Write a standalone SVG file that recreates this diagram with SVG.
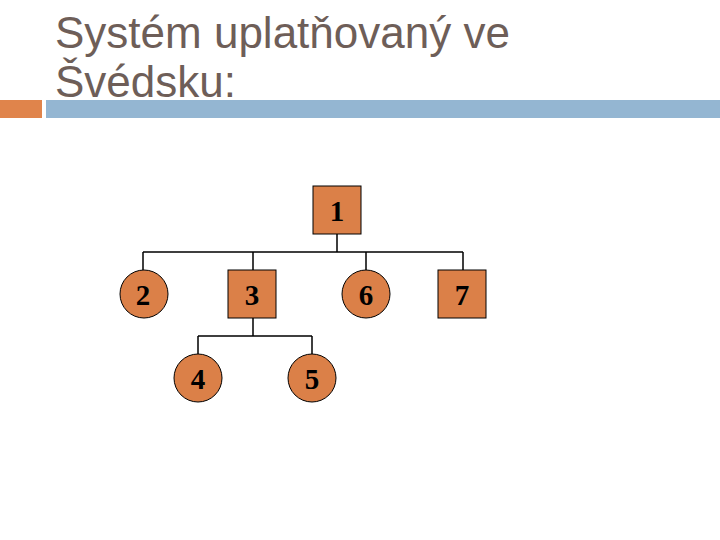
<svg xmlns="http://www.w3.org/2000/svg" width="720" height="540" viewBox="0 0 720 540">
<style>
.title{font-family:"Liberation Sans",Arial,sans-serif;font-size:44px;fill:#6E5E58}
.node{fill:#DB8048;stroke:#000;stroke-width:1}
.lbl{font-family:"Liberation Serif","Times New Roman",serif;font-size:29px;font-weight:bold;fill:#000;text-anchor:middle}
.conn{stroke:#000;stroke-width:1.5;fill:none}
</style>
<rect width="720" height="540" fill="#fff"/>
<text class="title" x="55" y="48">Systém uplatňovaný ve</text>
<text class="title" x="55" y="97">Švédsku:</text>
<rect x="0" y="100" width="42" height="18" fill="#E0844B"/>
<rect x="46" y="100" width="674" height="18" fill="#94B6D2"/>
<g id="connectors">
<path class="conn" d="M337,234 V252 M143,252 H463 M143,252 V270 M253,252 V270 M366,252 V270 M463,252 V270"/>
<path class="conn" d="M253,318 V336 M198,336 H312 M198,336 V354 M312,336 V354"/>
</g>
<g id="n1"><rect class="node" x="313" y="186" width="48" height="48"/><text class="lbl" x="337" y="221">1</text></g>
<g id="n2"><circle class="node" cx="144" cy="294" r="24"/><text class="lbl" x="143" y="305">2</text></g>
<g id="n3"><rect class="node" x="228" y="270" width="48" height="48"/><text class="lbl" x="252" y="305">3</text></g>
<g id="n6"><circle class="node" cx="366" cy="294" r="24"/><text class="lbl" x="366" y="305">6</text></g>
<g id="n7"><rect class="node" x="438" y="270" width="48" height="48"/><text class="lbl" x="462" y="305">7</text></g>
<g id="n4"><circle class="node" cx="198" cy="378" r="24"/><text class="lbl" x="198" y="389">4</text></g>
<g id="n5"><circle class="node" cx="312" cy="378" r="24"/><text class="lbl" x="312" y="389">5</text></g>
</svg>
